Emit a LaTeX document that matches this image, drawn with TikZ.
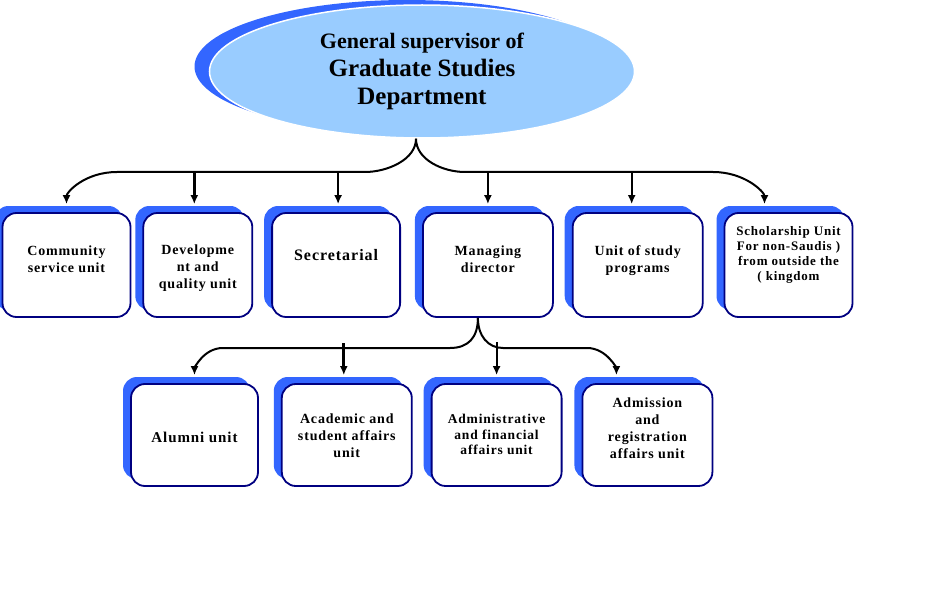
\documentclass[tikz,border=0pt]{standalone}
\usepackage{fontspec}
\setmainfont{Liberation Serif}
\newfontfamily\unitfont[LetterSpace=6]{Liberation Serif}
\usepackage{tikz}
\usetikzlibrary{shapes,arrows.meta,positioning,shadows,calc}
\definecolor{lightblue}{RGB}{153,204,255}
\definecolor{shadowblue}{RGB}{51,102,255}
\definecolor{navy}{RGB}{0,0,128}
\tikzstyle{head} = [ellipse, draw=white, line width=1.5pt, fill=lightblue, text=black, align=center, inner sep=0pt, minimum width=425pt, minimum height=133pt, font=\bfseries\fontsize{25}{28}\selectfont, drop shadow={shadow xshift=-15pt, shadow yshift=5pt, opacity=1, fill=shadowblue}]
\tikzstyle{unit} = [rectangle, rounded corners=14pt, draw=navy, line width=1.8pt, fill=white, text=black, minimum width=128pt, minimum height=104pt, inner sep=0pt, font=\unitfont\bfseries\fontsize{14}{17}\selectfont, drop shadow={shadow xshift=-8pt, shadow yshift=7pt, opacity=1, fill=shadowblue}]
\tikzstyle{subunit} = [unit, minimum width=130pt, minimum height=102pt]
\tikzstyle{tedge}  = [draw, line width=2pt, -{Latex[length=9pt,width=8pt]}, shorten >=8pt]
\tikzstyle{bigedge} = [tedge, line width=3pt]
\newcommand{\boxlines}[2]{\raisebox{#1}[0pt][0pt]{\begin{tabular}{@{}c@{}}#2\end{tabular}}}

\begin{document}
\begin{tikzpicture}[x=1pt, y=-1pt]
\useasboundingbox (0,0) rectangle (951,591);

% head =============================
\node[head] (boss) at (422,71.5) {{\fontsize{22}{28}\selectfont General supervisor of}\\Graduate Studies\\Department};

% units
\node[unit] (comm) at (66.5,265) {\boxlines{0.5pt}{Community\\service unit}};
\node[unit, minimum width=109pt, right=11pt of comm] (dev) {\boxlines{-7pt}{Developme\\nt and\\quality unit}};
\node[unit, right=18pt of dev, font=\unitfont\bfseries\fontsize{16}{19}\selectfont] (sec) {\boxlines{4pt}{Secretarial}};
\node[unit, minimum width=130pt, right=21pt of sec] (mgr) {\boxlines{0.5pt}{Managing\\director}};
\node[unit, minimum width=130pt, right=18pt of mgr] (prog) {\boxlines{0.5pt}{Unit of study\\programs}};
\node[unit, right=20pt of prog, font=\unitfont\bfseries\fontsize{13}{15}\selectfont] (sch) {\boxlines{6.5pt}{Scholarship Unit\\For non-Saudis )\\from outside the\\( kingdom}};

% sub units
\node[subunit, minimum width=127pt, font=\unitfont\bfseries\fontsize{15}{17}\selectfont] (alum) at (194.5,435) {\boxlines{-7.5pt}{Alumni unit}};
\node[subunit, right=22pt of alum] (acad) {\boxlines{-5.5pt}{Academic and\\student affairs\\unit}};
\node[subunit, right=18pt of acad, font=\unitfont\bfseries\fontsize{13.5}{15.5}\selectfont] (admin) {\boxlines{-4.5pt}{Administrative\\and financial\\affairs unit}};
\node[subunit, right=19pt of admin] (adm) {\boxlines{1.5pt}{Admission\\and\\registration\\affairs unit}};

%edges
\coordinate (bus) at (0,172);
\coordinate (root) at ([xshift=-6pt]boss.south);
\path[tedge] (root) .. controls +(0,21) and +(22,0) .. (365,172) -- (117,172) .. controls +(-32,0) and +(0,-20) .. (comm.north);
\path[tedge] (root) .. controls +(0,21) and +(-22,0) .. (465,172) -- (713,172) .. controls +(32,0) and +(0,-20) .. ([xshift=-24pt]sch.north);
\path[bigedge] ($(bus -| dev.north)+(-3.5,0)$) -- ($(dev.north)+(-3.5,0)$);
\path[tedge] ($(bus -| sec.north)+(2,0)$) -- ($(sec.north)+(2,0)$);
\path[tedge] (bus -| mgr.north) -- (mgr.north);
\path[tedge] ($(bus -| prog.north)+(-6,0)$) -- ($(prog.north)+(-6,0)$);

\coordinate (bus2) at (0,348);
\coordinate (fork) at ([xshift=-10pt]mgr.south);
\path[tedge] (fork) .. controls +(0,20) and +(18,0) .. (450,348) -- (223,348) .. controls +(-20,0) and +(0,-14) .. (alum.north);
\path[tedge] (fork) .. controls +(0,18) and +(-15,0) .. (503,348) -- (587,348) .. controls +(20,0) and +(0,-14) .. ([xshift=-31pt]adm.north);
\path[bigedge] ($(bus2 -| acad.north)+(-3,-5)$) -- ($(acad.north)+(-3,0)$);
\path[tedge] ($(bus2 -| admin.north)+(0,-6)$) -- (admin.north);

\end{tikzpicture}
\end{document}
